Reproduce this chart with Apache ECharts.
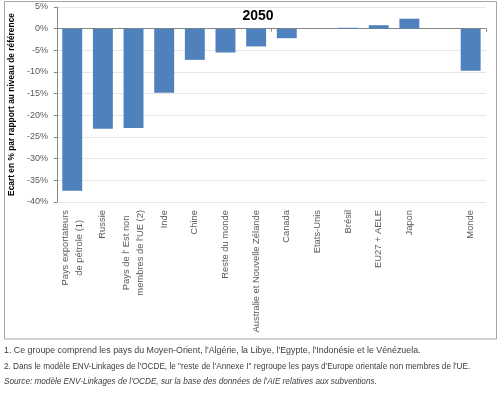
<!DOCTYPE html>
<html>
<head>
<meta charset="utf-8">
<script src="https://cdn.jsdelivr.net/npm/echarts@6/dist/echarts.min.js"></script>
<style>
html,body{margin:0;padding:0;background:#fff;}
#chart{width:500px;height:395px;}
</style>
</head>
<body>
<div id="chart"></div>
<script>
const categories = [
  "Pays exportateurs\nde pétrole (1)",
  "Russie",
  "Pays de l' Est non\nmembres de l'UE (2)",
  "Inde",
  "Chine",
  "Reste du monde",
  "Australie et Nouvelle Zélande",
  "Canada",
  "Etats-Unis",
  "Brésil",
  "EU27 + AELE",
  "Japon",
  "",
  "Monde"
];
const values = [-37.4, -23.1, -22.9, -14.8, -7.2, -5.5, -4.1, -2.2, 0, 0.2, 0.8, 2.3, null, -9.7];
const yTicks = { min: -40, max: 5, interval: 5 };
const title = "2050";
const yAxisName = "Ecart en % par rapport au niveau de référence";
const notes = [
  "1. Ce groupe comprend les pays du Moyen-Orient, l'Algérie, la Libye, l'Egypte, l'Indonésie et le Vénézuela.",
  "2. Dans le modèle ENV-Linkages de l'OCDE, le \"reste de l'Annexe I\" regroupe les pays d'Europe orientale non membres de l'UE.",
  "Source: modèle ENV-Linkages de l'OCDE, sur la base des données de l'AIE relatives aux subventions."
];

const chart = echarts.init(document.getElementById('chart'), null, { renderer: 'canvas' });
const font = 'Liberation Sans, Arial, sans-serif';

chart.setOption({
  animation: false,
  backgroundColor: '#fff',
  grid: { left: 55, right: 14, top: 7, bottom: 193, containLabel: false },
  xAxis: [
    {
      type: 'category',
      data: categories,
      position: 'bottom',
      axisLine: { show: true, onZero: true, lineStyle: { color: '#868686', width: 1 } },
      axisTick: { show: true, length: 3, alignWithLabel: false, lineStyle: { color: '#868686' } },
      axisLabel: { show: false },
      splitLine: { show: false }
    },
    {
      type: 'category',
      data: categories,
      position: 'bottom',
      axisLine: { show: false, onZero: false },
      axisTick: { show: false },
      splitLine: { show: false },
      axisLabel: {
        show: true,
        interval: 0,
        rotate: 90,
        margin: 8,
        fontFamily: font,
        fontSize: 9.4,
        color: '#595959',
        lineHeight: 14,
        formatter: function (v) {
          return v.split('\n').map(function (l) { return '{c|' + l + '}'; }).join('\n');
        },
        rich: { c: { align: 'center', fontFamily: font, fontSize: 9.4, color: '#595959', lineHeight: 14 } }
      }
    }
  ],
  yAxis: {
    type: 'value',
    min: yTicks.min,
    max: yTicks.max,
    interval: yTicks.interval,
    name: yAxisName,
    nameLocation: 'middle',
    nameRotate: 90,
    nameGap: 33,
    nameTextStyle: { fontFamily: font, fontSize: 8.4, fontWeight: 'bold', color: '#000' },
    axisLine: { show: true, lineStyle: { color: '#868686' } },
    axisTick: { show: true, length: 3, lineStyle: { color: '#868686' } },
    axisLabel: { fontFamily: font, fontSize: 9, color: '#595959', margin: 9, formatter: '{value}%' },
    splitLine: { show: true, lineStyle: { color: '#e6e6e6', width: 1 } }
  },
  series: [{
    type: 'bar',
    xAxisIndex: 0,
    data: values,
    barCategoryGap: '35%',
    itemStyle: { color: '#4f81bd' }
  }],
  graphic: [
    {
      type: 'rect', z: -1, silent: true,
      shape: { x: 4.5, y: 1.5, width: 492, height: 337.5 },
      style: { fill: 'none', stroke: '#a6a6a6', lineWidth: 1 }
    },
    {
      type: 'text', x: 258, y: 16,
      style: { text: title, font: 'bold 14px ' + font, fill: '#000', textAlign: 'center', textVerticalAlign: 'middle' }
    },
    {
      type: 'text', x: 4, y: 351,
      style: { text: notes[0], font: '8.85px ' + font, fill: '#404040', textVerticalAlign: 'middle' }
    },
    {
      type: 'text', x: 4, y: 367,
      style: { text: notes[1], font: '8.2px ' + font, fill: '#404040', textVerticalAlign: 'middle' }
    },
    {
      type: 'text', x: 4, y: 382,
      style: { text: notes[2], font: 'italic 8.2px ' + font, fill: '#404040', textVerticalAlign: 'middle' }
    }
  ]
});
</script>
</body>
</html>
